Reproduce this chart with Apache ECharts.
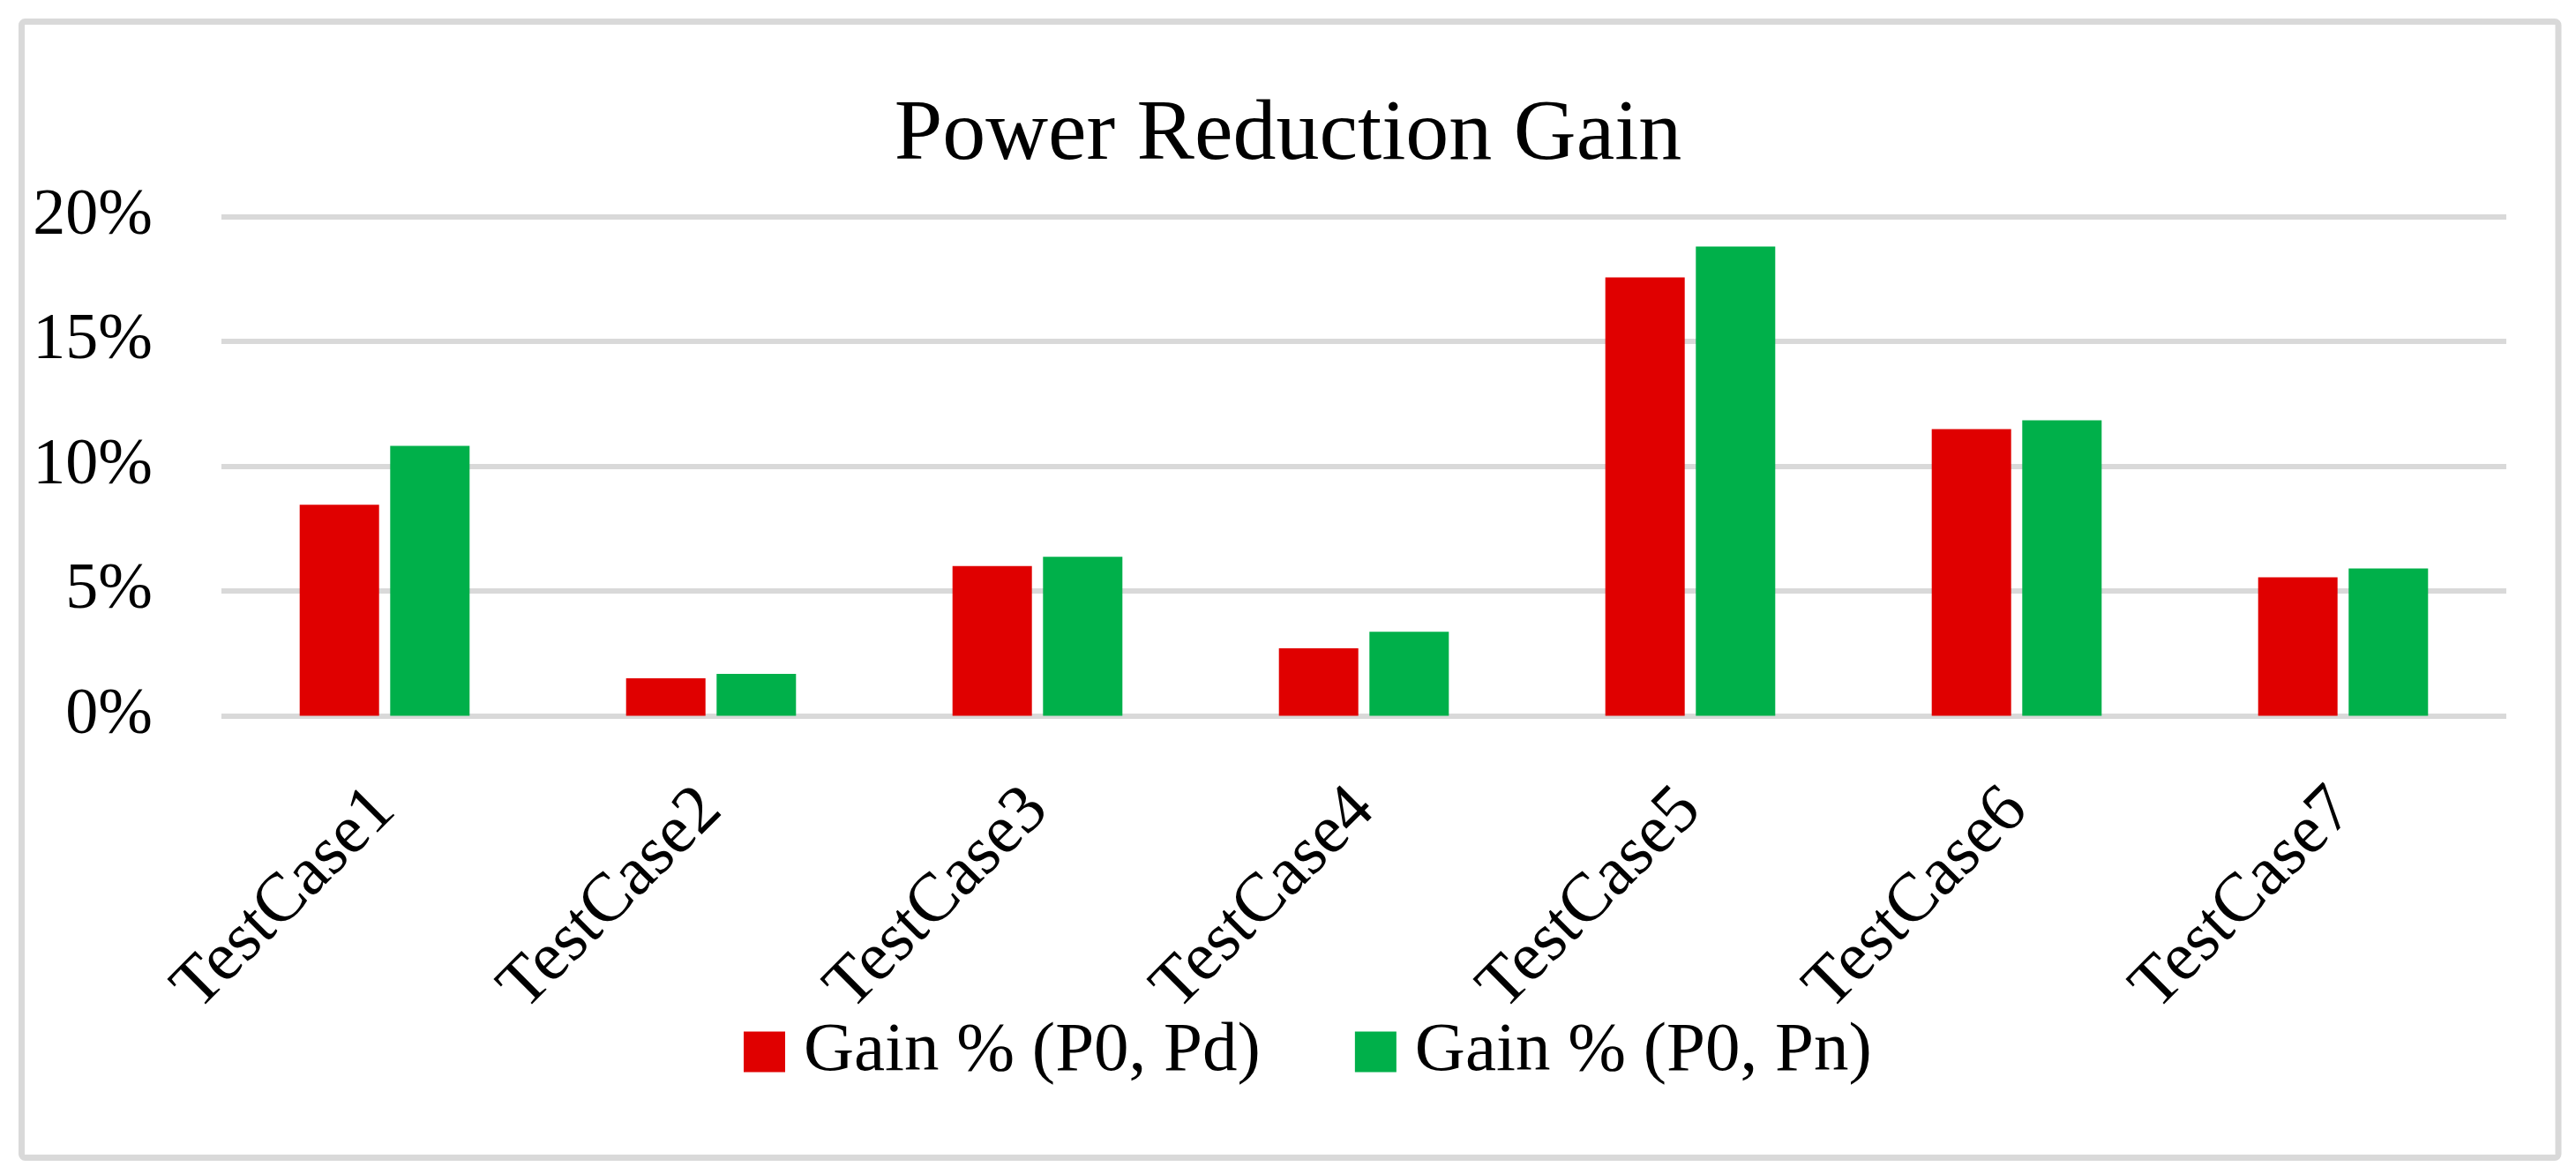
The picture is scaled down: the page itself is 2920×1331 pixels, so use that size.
<!DOCTYPE html>
<html>
<head>
<meta charset="utf-8">
<script src="https://cdn.jsdelivr.net/npm/echarts@6/dist/echarts.min.js"></script>
<style>
html,body{margin:0;padding:0;background:#fff;}
#chart{width:2920px;height:1331px;}
</style>
</head>
<body>
<div id="chart"></div>
<script>
const categories = ['TestCase1','TestCase2','TestCase3','TestCase4','TestCase5','TestCase6','TestCase7'];
const gainPd = [8.45, 1.50, 6.00, 2.70, 17.56, 11.48, 5.55];
const gainPn = [10.81, 1.68, 6.37, 3.37, 18.80, 11.84, 5.90];
const seriesNames = ['Gain % (P0, Pd)', 'Gain % (P0, Pn)'];
const titleText = 'Power Reduction Gain';

const FONT = '"Liberation Serif", "Times New Roman", serif';
const chart = echarts.init(document.getElementById('chart'), null, {renderer: 'canvas'});
chart.setOption({
  backgroundColor: '#ffffff',
  animation: false,
  title: {
    text: titleText,
    left: 'center',
    top: 100,
    textStyle: {fontFamily: FONT, fontSize: 98, fontWeight: 'normal', color: '#000'}
  },
  legend: {
    left: 838,
    top: 1148,
    itemWidth: 47,
    itemHeight: 46,
    itemGap: 107,
    icon: 'rect',
    textStyle: {fontFamily: FONT, fontSize: 79, color: '#000', padding: [0, 0, 0, 16]},
    data: seriesNames
  },
  grid: {left: 251, right: 79, top: 245.5, bottom: 519.5, containLabel: false},
  xAxis: {
    type: 'category',
    data: categories,
    axisLine: {show: false},
    axisTick: {show: false},
    axisLabel: {rotate: 45, margin: 95, fontFamily: FONT, fontSize: 78, color: '#000', interval: 0}
  },
  yAxis: {
    type: 'value',
    min: 0, max: 20, interval: 5,
    axisLine: {show: false},
    axisTick: {show: false},
    axisLabel: {formatter: '{value}%', margin: 78, fontFamily: FONT, fontSize: 74, color: '#000'},
    splitLine: {show: true, lineStyle: {color: '#d9d9d9', width: 6}}
  },
  series: [
    {name: seriesNames[0], type: 'bar', data: gainPd, barWidth: 90, barGap: '14%', itemStyle: {color: '#e00000'}},
    {name: seriesNames[1], type: 'bar', data: gainPn, barWidth: 90, barGap: '14%', itemStyle: {color: '#00b04a'}}
  ],
  graphic: [{
    type: 'rect',
    silent: true,
    shape: {x: 24.5, y: 24.5, width: 2875.5, height: 1288, r: 4},
    style: {fill: 'none', stroke: '#d9d9d9', lineWidth: 7}
  }]
});
</script>
</body>
</html>
